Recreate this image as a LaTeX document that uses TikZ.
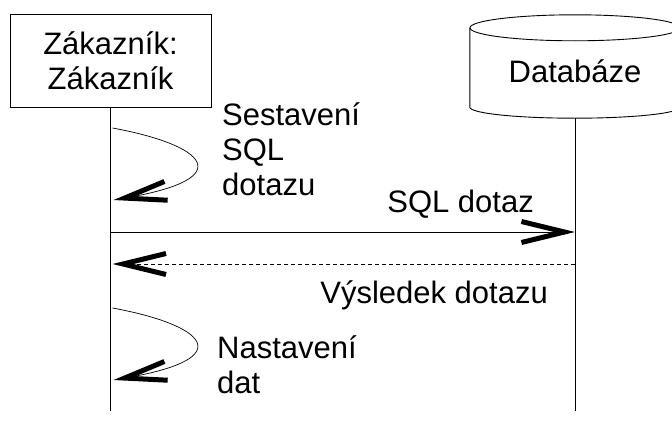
\documentclass[tikz,border=0pt]{standalone}
\usepackage{fontspec}
\setmainfont{Liberation Sans}
\usetikzlibrary{arrows.meta}
\usetikzlibrary{shapes,positioning}
\begin{document}
\begin{tikzpicture}[x=1pt, y=-1pt, font=\fontsize{31}{35}\selectfont]
% Define block styles
\tikzstyle{object} = [rectangle, draw, fill=white, line width=0.9pt,
    minimum width=201pt, minimum height=93pt, align=center, inner sep=0pt]
\tikzstyle{store} = [rectangle, minimum width=210pt, minimum height=103pt, inner sep=0pt]
\tikzstyle{life} = [draw, line width=0.9pt]
\tikzstyle{line} = [draw, line width=0.9pt,
    -{Straight Barb[length=43pt, width=21pt, line width'=5pt, line cap=butt]}]
\tikzstyle{self} = [draw, line width=0.7pt,
    -{Straight Barb[length=42pt, width=19pt, line width'=5pt, line cap=butt]}]
\tikzstyle{label} = [align=left, inner sep=0pt]
\useasboundingbox (0,0) rectangle (672,423);

    % Place nodes
    \node [object] (zak) at (110.5,60.5) {Zákazník:\\Zákazník};
    \node [store] (db) at (575,66.5) {};
    \node [inner sep=0pt, anchor=base] (dbtext) at (575,82) {Databáze};
    \coordinate (end) at (0,411);
    \coordinate (s1) at (0,128);
    \coordinate (t1) at (0,200);
    \coordinate (sql) at (0,232);
    \coordinate (res) at (0,264);
    \coordinate (s2) at (0,308);
    \coordinate (t2) at (0,380);
    \node [label, anchor=base west] (lsest) at (222,195) {Sestavení\\SQL\\dotazu};
    \node [label, anchor=base east] (lsql) at (534,212) {SQL dotaz};
    \node [label, anchor=base east] (lres) at (548,303) {Výsledek dotazu};
    \node [label, anchor=base west] (lnast) at (217,393) {Nastavení\\dat};
    % Draw the database drum
    \draw [life] ([yshift=-13pt]db.north) ellipse [x radius=105pt, y radius=13pt];
    \draw [life] ([yshift=-13pt]db.north west) -- ([yshift=11pt]db.south west)
        arc [start angle=180, end angle=360, x radius=105pt, y radius=11pt]
        -- ([yshift=-13pt]db.north east);
    % Draw edges
    \path [life] (zak.south) -- (zak.south |- end);
    \path [life] (db.south) -- (db.south |- end);
    \path [self] ([xshift=2pt]zak.south |- s1) .. controls (205,145) and (240,178) .. ([xshift=3pt]zak.south |- t1);
    \path [line] (zak.south |- sql) -- (db.south |- sql);
    \path [line, dash pattern=on 4pt off 3pt] (db.south |- res) -- ([xshift=2pt]zak.south |- res);
    \path [self] ([xshift=2pt]zak.south |- s2) .. controls (205,325) and (240,358) .. ([xshift=3pt]zak.south |- t2);
\end{tikzpicture}
\end{document}
